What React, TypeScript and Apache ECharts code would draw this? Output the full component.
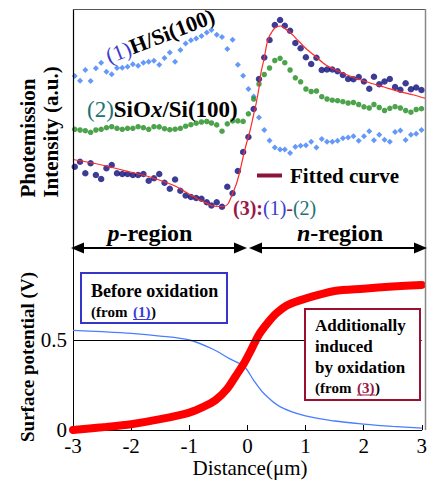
import React, { useEffect, useRef } from "react";
import * as echarts from "echarts";

// ---------- Top panel: photoemission intensity (a.u.) ----------
const xs = [
  -2.97, -2.88, -2.79, -2.7, -2.61, -2.52, -2.43, -2.34, -2.25, -2.16, -2.07, -1.98, -1.89, -1.8, -1.71, -1.62,
  -1.53, -1.44, -1.35, -1.26, -1.17, -1.08, -0.99, -0.9, -0.81, -0.72, -0.64, -0.55, -0.46, -0.37, -0.28, -0.19,
  -0.1, -0.01, 0.08, 0.17, 0.26, 0.35, 0.44, 0.53, 0.61, 0.7, 0.79, 0.88, 0.97, 1.06, 1.15, 1.24, 1.33, 1.42,
  1.51, 1.6, 1.69, 1.78, 1.87, 1.96, 2.05, 2.13, 2.22, 2.31, 2.4, 2.49, 2.58, 2.67, 2.76, 2.85, 2.94,
];
const hSi = [
  144, 139.3, 150, 139, 151.7, 157.3, 148.3, 145.7, 152, 152.3, 153.3, 155.7, 154.3, 157.3, 158.3, 159.3, 155.2,
  162, 167.4, 158.2, 170, 176.5, 179.8, 181.4, 184, 187.5, 190, 185.2, 183, 171, 180.2, 155.2, 144.3, 131, 123.5,
  102.5, 90, 79.5, 72.5, 70.5, 70.5, 67, 73.3, 74.3, 74.8, 78.3, 72.5, 81, 78.3, 78.3, 79.2, 81.7, 82.5, 83.7,
  79.2, 83.7, 88.7, 79.7, 85.3, 80.3, 78.3, 88, 89.5, 80, 85.3, 86.3, 90,
];
const siOx = [
  90.7, 90, 89.3, 87.7, 90, 90.7, 92.3, 93.3, 91.7, 90.7, 91.7, 91.7, 93.3, 92.3, 90.7, 93.3, 93.1, 91.3, 90.3,
  90.8, 91.7, 93.8, 95.3, 96.8, 98, 98.5, 97, 95.1, 88.8, 96.2, 99.1, 99.1, 98.6, 106.2, 121, 136, 145.5, 152,
  159.5, 161.7, 157.3, 150, 142.2, 138.2, 131, 128.5, 129, 123.3, 121, 119.8, 119.3, 118.3, 117, 117.5, 115.5,
  113.2, 112, 115.5, 112.5, 109.5, 111.7, 113.3, 112, 109.5, 107.8, 110.5, 111.3,
];
const diff = [
  53.3, 58.3, 46.7, 56.7, 45, 41, 51.7, 55, 46.7, 46, 46, 45, 45, 46, 39.3, 41.7, 46, 37.2, 31.2, 40.5, 29.2,
  24.5, 23, 22, 21.3, 17.8, 14.5, 17.8, 13.3, 33.3, 26.7, 49, 68, 83, 111, 141, 162.5, 180, 195, 200, 194.2,
  189.2, 177, 171.7, 162.7, 156, 162.2, 150, 150.5, 150.5, 148.7, 145, 141, 140.8, 143, 138.5, 131.2, 143.3,
  135.8, 138.5, 141, 133, 130.3, 136.7, 130.8, 132.5, 130,
];
const fitX = [
  -3, -2.71, -2.37, -2.03, -1.69, -1.26, -0.95, -0.75, -0.61, -0.44, -0.36, -0.29, -0.21, -0.15, -0.1, -0.05,
  0.02, 0.07, 0.12, 0.17, 0.2, 0.26, 0.3, 0.34, 0.39, 0.44, 0.49, 0.53, 0.58, 0.63, 0.69, 0.8, 0.97, 1.14, 1.31,
  1.48, 1.72, 2.01, 2.3, 2.57, 2.81, 3,
];
const fitY = [
  60.5, 57.5, 53, 48, 43, 34, 23.5, 17.5, 14, 13.5, 16, 25, 37, 50, 63, 75, 90, 103, 116, 132, 146, 162, 175,
  183, 188, 192, 193.5, 194, 193, 190.5, 188.3, 181.7, 171.5, 163.3, 155, 150, 144, 138, 133, 128.3, 125, 121.7,
];

// ---------- Bottom panel: surface potential (V) ----------
const beforeX = [-3, -2.5, -2, -1.5, -1, -0.6, -0.3, -0.05, 0.1, 0.28, 0.56, 1.0, 1.5, 2.0, 2.5, 3.0];
const beforeY = [0.553, 0.546, 0.537, 0.522, 0.5, 0.45, 0.395, 0.352, 0.28, 0.204, 0.13, 0.078, 0.05, 0.033, 0.02, 0.01];
const inducedX = [-3, -2.5, -2, -1.5, -1, -0.75, -0.55, -0.35, -0.2, -0.05, 0.08, 0.2, 0.35, 0.5, 0.7, 1.0, 1.5, 2.0, 2.5, 3.0];
const inducedY = [0, 0.015, 0.032, 0.06, 0.097, 0.13, 0.165, 0.228, 0.3, 0.375, 0.455, 0.53, 0.595, 0.648, 0.695, 0.73, 0.772, 0.785, 0.797, 0.806];
const yTickLabels = [0, 0.5];
const refLevel = 0.5;

const SERIF = "'Liberation Serif', 'Times New Roman', serif";
const BLUE_T = "#3b3bd0";
const TEAL_T = "#1d7373";
const MAROON = "#9a1848";

const zip = (a: number[], b: number[]) => a.map((v, i) => [v, b[i]]);

export default function App() {
  const ref = useRef<HTMLDivElement>(null);
  useEffect(() => {
    if (!ref.current) return;
    const chart = echarts.init(ref.current, undefined, { renderer: "svg" });
    const txt = (o: any) => ({ type: "text", z: 100, ...o, style: { fontFamily: SERIF, fill: "#000", ...o.style } });
    const line = (x1: number, y1: number, x2: number, y2: number, stroke: string, lw: number) => ({
      type: "line", z: 100, shape: { x1, y1, x2, y2 }, style: { stroke, lineWidth: lw },
    });
    const tri = (pts: number[][]) => ({ type: "polygon", z: 100, shape: { points: pts }, style: { fill: "#000" } });
    const mid = { textVerticalAlign: "middle", verticalAlign: "middle" };

    chart.setOption({
      animation: false,
      backgroundColor: "#fff",
      textStyle: { fontFamily: SERIF },
      grid: [
        { left: 73, width: 352, top: 9, height: 211 },
        { left: 73, width: 352, top: 250, height: 180 },
      ],
      xAxis: [
        { gridIndex: 0, type: "value", min: -3, max: 3, show: false },
        {
          gridIndex: 1, type: "value", min: -3, max: 3, interval: 1,
          axisLine: { onZero: false, lineStyle: { color: "#000", width: 1 } },
          axisTick: { inside: true, length: 5, lineStyle: { color: "#000" } },
          axisLabel: { color: "#000", fontSize: 21, fontFamily: SERIF, margin: 5 },
          splitLine: { show: false },
        },
      ],
      yAxis: [
        { gridIndex: 0, type: "value", min: 0, max: 211, show: false },
        {
          gridIndex: 1, type: "value", min: 0, max: 1, interval: 0.5,
          axisLine: { show: true, onZero: false, lineStyle: { color: "#000", width: 1 } },
          axisTick: { show: false },
          axisLabel: {
            color: "#000", fontSize: 21, fontFamily: SERIF, margin: 6,
            formatter: (v: number) => (yTickLabels.includes(v) ? String(v) : ""),
          },
          splitLine: { show: false },
        },
      ],
      legend: {
        data: [{ name: "Fitted curve", icon: "rect", itemStyle: { color: "#8b1538" } }],
        left: 257, top: 165, padding: 0, itemWidth: 25, itemHeight: 4, selectedMode: false,
        textStyle: { fontSize: 21, fontWeight: "bold", fontFamily: SERIF, color: "#000", padding: [0, 0, 0, 3] },
      },
      series: [
        {
          name: "(1)H/Si(100)", type: "scatter", xAxisIndex: 0, yAxisIndex: 0, symbol: "diamond", symbolSize: 6,
          itemStyle: { color: "#3d7ef7" }, data: zip(xs, hSi),
        },
        {
          name: "(2)SiOx/Si(100)", type: "scatter", xAxisIndex: 0, yAxisIndex: 0, symbolSize: 5.5,
          itemStyle: { color: "#1f8c1f" }, data: zip(xs, siOx),
        },
        {
          name: "(3):(1)-(2)", type: "scatter", xAxisIndex: 0, yAxisIndex: 0, symbolSize: 6.5,
          itemStyle: { color: "#0b0b7a" }, data: zip(xs, diff),
        },
        {
          name: "Fitted curve", type: "line", xAxisIndex: 0, yAxisIndex: 0, showSymbol: false, smooth: 0.3,
          lineStyle: { color: "#ff2a2a", width: 1.2 }, itemStyle: { color: "#ff2a2a" }, data: zip(fitX, fitY),
        },
        {
          name: "Before oxidation", type: "line", xAxisIndex: 1, yAxisIndex: 1, showSymbol: false, smooth: 0.3,
          lineStyle: { color: "#4a7dff", width: 1.3 }, data: zip(beforeX, beforeY),
          markLine: {
            silent: true, symbol: ["none", "none"], label: { show: false },
            lineStyle: { color: "#000", width: 1, type: "solid" }, data: [{ yAxis: refLevel }],
          },
        },
        {
          name: "Additionally induced by oxidation", type: "line", xAxisIndex: 1, yAxisIndex: 1, showSymbol: false,
          smooth: 0.3, lineStyle: { color: "#ff0000", width: 8, cap: "round" }, data: zip(inducedX, inducedY),
        },
      ],
      graphic: [
        // frame
        line(73.5, 9, 73.5, 250, "#000", 1.2),
        line(73, 9.5, 425.5, 9.5, "#555", 1.2),
        line(425.5, 9, 425.5, 430, "#888", 1.5),
        // y titles
        txt({ x: 28, y: 138, rotation: Math.PI / 2, style: { text: "Photemission", fontSize: 21, fontWeight: "bold", textAlign: "center", ...mid } }),
        txt({ x: 51, y: 132, rotation: Math.PI / 2, style: { text: "Intensity (a.u.)", fontSize: 21, fontWeight: "bold", textAlign: "center", ...mid } }),
        txt({ x: 27, y: 357, rotation: Math.PI / 2, style: { text: "Surface potential (V)", fontSize: 19, fontWeight: "bold", textAlign: "center", ...mid } }),
        txt({ x: 250, y: 468, style: { text: "Distance(μm)", fontSize: 21, textAlign: "center", ...mid } }),
        // series labels
        txt({
          x: 160, y: 36, rotation: 0.37,
          style: {
            text: "{a|(1)}{b|H/Si(100)}", textAlign: "center", ...mid,
            rich: {
              a: { fontSize: 22, fontFamily: SERIF, color: BLUE_T, fill: BLUE_T },
              b: { fontSize: 22, fontFamily: SERIF, fontWeight: "bold", color: "#000", fill: "#000" },
            },
          },
        }),
        txt({
          x: 87, y: 109,
          style: {
            text: "{a|(2)}{b|SiO}{i|x}{b|/Si(100)}", textAlign: "left", ...mid,
            rich: {
              a: { fontSize: 23, fontFamily: SERIF, color: TEAL_T, fill: TEAL_T },
              b: { fontSize: 23, fontFamily: SERIF, fontWeight: "bold", color: "#000", fill: "#000" },
              i: { fontSize: 23, fontFamily: SERIF, fontWeight: "bold", fontStyle: "italic", color: "#000", fill: "#000" },
            },
          },
        }),
        txt({
          x: 233, y: 208,
          style: {
            text: "{m|(3):}{b|(1)}{k|-}{t|(2)}", textAlign: "left", ...mid,
            rich: {
              m: { fontSize: 20, fontFamily: SERIF, fontWeight: "bold", color: MAROON, fill: MAROON },
              b: { fontSize: 20, fontFamily: SERIF, color: BLUE_T, fill: BLUE_T },
              k: { fontSize: 20, fontFamily: SERIF, color: MAROON, fill: MAROON },
              t: { fontSize: 20, fontFamily: SERIF, color: TEAL_T, fill: TEAL_T },
            },
          },
        }),
        // region arrows
        line(80, 248, 240, 248, "#000", 2),
        line(255, 248, 420, 248, "#000", 2),
        tri([[71, 248], [84, 242.5], [84, 253.5]]),
        tri([[247, 248], [234, 242.5], [234, 253.5]]),
        tri([[249, 248], [262, 242.5], [262, 253.5]]),
        tri([[427, 248], [414, 242.5], [414, 253.5]]),
        txt({
          x: 150, y: 233,
          style: {
            text: "{i|p}{b|-region}", textAlign: "center", ...mid,
            rich: {
              i: { fontSize: 24, fontFamily: SERIF, fontWeight: "bold", fontStyle: "italic" },
              b: { fontSize: 24, fontFamily: SERIF, fontWeight: "bold" },
            },
          },
        }),
        txt({
          x: 340, y: 233,
          style: {
            text: "{i|n}{b|-region}", textAlign: "center", ...mid,
            rich: {
              i: { fontSize: 24, fontFamily: SERIF, fontWeight: "bold", fontStyle: "italic" },
              b: { fontSize: 24, fontFamily: SERIF, fontWeight: "bold" },
            },
          },
        }),
        // before-oxidation box
        { type: "rect", z: 100, shape: { x: 81, y: 273, width: 146, height: 50 }, style: { fill: "#fff", stroke: "#3535c8", lineWidth: 2 } },
        txt({ x: 91, y: 291, style: { text: "Before oxidation", fontSize: 18, fontWeight: "bold", ...mid } }),
        txt({ x: 91, y: 312, style: { text: "(from ", fontSize: 15, fontWeight: "bold", ...mid } }),
        txt({ x: 133, y: 312, style: { text: "(1)", fontSize: 15, fontWeight: "bold", fill: "#3a3ad8", ...mid } }),
        line(133, 319.5, 151, 319.5, "#3a3ad8", 1),
        txt({ x: 151, y: 312, style: { text: ")", fontSize: 15, fontWeight: "bold", ...mid } }),
        // induced-by-oxidation box
        { type: "rect", z: 100, shape: { x: 305, y: 309, width: 115, height: 91 }, style: { fill: "#fff", stroke: "#9b1030", lineWidth: 2 } },
        txt({ x: 315, y: 325, style: { text: "Additionally", fontSize: 17, fontWeight: "bold", ...mid } }),
        txt({ x: 315, y: 346.5, style: { text: "induced", fontSize: 17, fontWeight: "bold", ...mid } }),
        txt({ x: 315, y: 367, style: { text: "by oxidation", fontSize: 17, fontWeight: "bold", ...mid } }),
        txt({ x: 315, y: 387.5, style: { text: "(from ", fontSize: 15, fontWeight: "bold", ...mid } }),
        txt({ x: 357, y: 387.5, style: { text: "(3)", fontSize: 15, fontWeight: "bold", fill: MAROON, ...mid } }),
        line(357, 395, 375, 395, MAROON, 1),
        txt({ x: 375, y: 387.5, style: { text: ")", fontSize: 15, fontWeight: "bold", ...mid } }),
      ],
    });
    return () => chart.dispose();
  }, []);
  return <div ref={ref} style={{ position: "fixed", left: 0, top: 0, width: 430, height: 480 }} />;
}
